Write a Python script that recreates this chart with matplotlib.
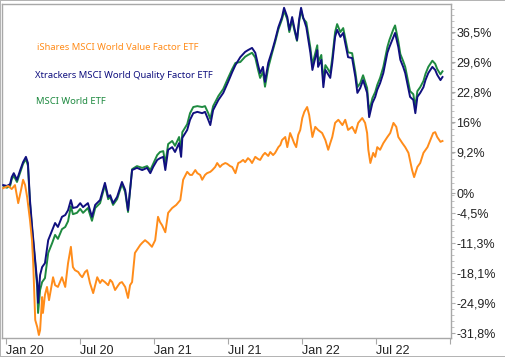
import matplotlib
matplotlib.use("Agg")
import matplotlib.pyplot as plt
import matplotlib.dates as mdates
import pandas as pd
import numpy as np

# ---- data (percent performance) ----
value_dates = ["2019-12-25","2020-01-06","2020-01-15","2020-01-23","2020-01-31","2020-02-07","2020-02-12","2020-02-17",
    "2020-02-22","2020-02-29","2020-03-05","2020-03-08","2020-03-13","2020-03-18","2020-03-22","2020-03-25","2020-03-30",
    "2020-04-01","2020-04-06","2020-04-11","2020-04-16","2020-04-19","2020-04-26","2020-05-01","2020-05-08","2020-05-13",
    "2020-05-18","2020-05-26","2020-06-02","2020-06-09","2020-06-14","2020-06-19","2020-06-27","2020-07-02","2020-07-07",
    "2020-07-14","2020-07-19","2020-07-26","2020-08-03","2020-08-08","2020-08-13","2020-08-20","2020-08-25","2020-09-01",
    "2020-09-09","2020-09-14","2020-09-19","2020-09-26","2020-10-04","2020-10-08","2020-10-13","2020-10-21","2020-10-28",
    "2020-11-02","2020-11-07","2020-11-14","2020-11-22","2020-11-27","2020-12-02","2020-12-09","2020-12-17","2020-12-22",
    "2020-12-26","2021-01-03","2021-01-10","2021-01-15","2021-01-20","2021-01-28","2021-02-04","2021-02-14","2021-02-24",
    "2021-03-06","2021-03-13","2021-03-23","2021-03-30","2021-04-04","2021-04-12","2021-04-17","2021-04-24","2021-04-29",
    "2021-05-06","2021-05-11","2021-05-19","2021-05-24","2021-05-31","2021-06-05","2021-06-12","2021-06-17","2021-06-25",
    "2021-06-30","2021-07-07","2021-07-12","2021-07-20","2021-07-27","2021-08-01","2021-08-08","2021-08-13","2021-08-20",
    "2021-08-25","2021-08-30","2021-09-07","2021-09-14","2021-09-19","2021-09-26","2021-10-01","2021-10-09","2021-10-14",
    "2021-10-21","2021-10-26","2021-11-03","2021-11-08","2021-11-12","2021-11-20","2021-11-25","2021-12-02","2021-12-07",
    "2021-12-12","2021-12-17","2021-12-22","2021-12-27","2022-01-01","2022-01-06","2022-01-13","2022-01-18","2022-01-26",
    "2022-02-02","2022-02-09","2022-02-19","2022-02-27","2022-03-06","2022-03-11","2022-03-16","2022-03-23","2022-03-31",
    "2022-04-10","2022-04-17","2022-04-24","2022-05-04","2022-05-12","2022-05-19","2022-05-29","2022-06-05","2022-06-10",
    "2022-06-13","2022-06-18","2022-06-25","2022-06-30","2022-07-05","2022-07-12","2022-07-20","2022-07-30","2022-08-06",
    "2022-08-14","2022-08-21","2022-08-26","2022-09-05","2022-09-12","2022-09-20","2022-09-29","2022-10-04","2022-10-12",
    "2022-10-19","2022-10-27","2022-11-06","2022-11-13","2022-11-20","2022-11-25","2022-11-30","2022-12-08","2022-12-13"]
value_etf = [1.1,1.6,0.9,1.8,-2.3,0.7,3.0,1.8,
    -0.9,-6.1,-10.7,-15.9,-28.8,-30.4,-32.2,-31.1,-23.6,
    -27.2,-23.1,-21.3,-24.3,-22.7,-19.1,-20.9,-21.3,-20.2,
    -19.1,-21.3,-15.9,-12.2,-16.8,-17.5,-17.9,-18.6,-19.1,
    -17.9,-17.5,-20.4,-22.7,-20.9,-19.1,-20.4,-19.7,-20.2,
    -20.9,-19.7,-20.2,-22.0,-20.9,-20.4,-20.2,-21.3,-23.8,
    -20.9,-20.2,-13.6,-12.5,-11.8,-11.3,-10.7,-11.3,-11.8,
    -12.2,-10.7,-5.4,-6.6,-7.3,-8.9,-4.5,-3.4,-2.7,
    -1.6,3.0,4.8,4.1,4.1,5.2,4.5,4.1,3.0,
    4.1,4.5,4.8,5.2,5.9,6.8,5.9,6.4,6.8,
    6.6,6.1,5.9,4.5,6.8,7.0,7.5,7.0,7.9,
    7.5,6.8,8.2,7.7,7.5,8.6,9.1,8.4,9.3,
    8.6,9.1,10.4,10.9,12.0,12.7,10.4,13.6,12.5,
    11.3,10.4,13.2,14.3,17.0,18.4,19.5,17.7,12.7,
    15.0,14.3,13.6,12.0,9.8,11.3,12.7,15.9,16.6,
    15.4,16.6,14.3,15.0,13.6,15.9,17.0,15.9,13.6,
    9.8,6.8,9.1,8.2,10.4,9.8,11.3,12.7,13.6,
    15.9,15.0,12.7,11.3,10.4,9.1,5.2,3.6,5.9,
    6.8,9.1,10.4,12.0,13.6,13.8,12.7,11.6,11.8]

quality_dates = ["2019-12-25","2020-01-03","2020-01-11","2020-01-15","2020-01-20","2020-01-28","2020-02-05","2020-02-12",
    "2020-02-19","2020-02-24","2020-02-29","2020-03-05","2020-03-13","2020-03-18","2020-03-20","2020-03-25","2020-03-30",
    "2020-04-06","2020-04-14","2020-04-24","2020-05-01","2020-05-08","2020-05-18","2020-05-26","2020-06-02","2020-06-09",
    "2020-06-14","2020-06-24","2020-07-02","2020-07-09","2020-07-21","2020-07-31","2020-08-08","2020-08-20","2020-09-01",
    "2020-09-09","2020-09-14","2020-09-21","2020-10-01","2020-10-13","2020-10-21","2020-10-28","2020-11-07","2020-11-19",
    "2020-12-02","2020-12-14","2020-12-22","2020-12-29","2021-01-08","2021-01-15","2021-01-23","2021-01-28","2021-02-04",
    "2021-02-14","2021-02-21","2021-03-03","2021-03-08","2021-03-11","2021-03-23","2021-03-30","2021-04-07","2021-04-17",
    "2021-04-29","2021-05-06","2021-05-14","2021-05-19","2021-05-26","2021-06-08","2021-06-20","2021-07-02","2021-07-12",
    "2021-07-20","2021-08-01","2021-08-13","2021-08-20","2021-08-30","2021-09-07","2021-09-14","2021-09-19","2021-09-26",
    "2021-10-01","2021-10-09","2021-10-19","2021-10-26","2021-11-03","2021-11-12","2021-11-17","2021-11-25","2021-11-30",
    "2021-12-07","2021-12-12","2021-12-19","2021-12-24","2021-12-29","2022-01-03","2022-01-11","2022-01-16","2022-01-21",
    "2022-01-26","2022-01-30","2022-02-07","2022-02-09","2022-02-17","2022-02-22","2022-02-27","2022-03-04","2022-03-11",
    "2022-03-16","2022-03-23","2022-03-28","2022-04-05","2022-04-12","2022-04-17","2022-04-24","2022-05-04","2022-05-12",
    "2022-05-17","2022-05-24","2022-05-31","2022-06-10","2022-06-15","2022-06-23","2022-06-30","2022-07-05","2022-07-12",
    "2022-07-20","2022-07-30","2022-08-04","2022-08-14","2022-08-18","2022-08-26","2022-08-31","2022-09-07","2022-09-12",
    "2022-09-17","2022-09-24","2022-10-02","2022-10-07","2022-10-12","2022-10-19","2022-10-27","2022-11-01","2022-11-08",
    "2022-11-18","2022-11-25","2022-11-30","2022-12-08","2022-12-13"]
quality_etf = [1.8,1.6,2.0,3.6,4.5,3.0,5.2,7.0,
    8.2,6.8,-1.6,-7.3,-15.2,-20.4,-24.9,-18.6,-16.8,
    -15.9,-10.7,-8.4,-6.8,-7.7,-5.4,-5.0,-3.9,-1.6,
    -3.4,-3.2,-2.3,-3.2,-2.3,-5.4,-2.7,-1.6,2.3,
    -0.9,-0.5,-2.3,-0.9,2.5,0.7,-3.9,5.2,5.7,
    5.2,5.7,4.5,5.9,7.5,7.9,8.2,5.2,9.8,
    10.4,9.3,11.3,8.2,12.5,14.3,16.6,18.1,18.4,
    18.1,18.4,16.6,15.4,18.8,21.1,22.7,25.2,27.4,
    29.0,30.8,32.0,32.4,32.9,31.8,29.0,27.2,28.6,
    25.2,29.5,32.4,34.7,37.6,39.9,42.0,39.9,37.0,
    39.9,37.6,34.7,39.2,42.0,39.9,37.6,34.7,31.8,
    27.9,29.5,32.4,28.6,30.2,24.0,27.9,27.2,26.1,
    29.5,35.4,37.0,35.4,36.3,34.0,30.8,30.6,26.3,
    22.7,23.8,25.6,22.7,17.2,20.4,21.8,23.4,24.9,
    27.2,31.8,33.1,35.4,36.3,33.1,30.2,28.6,27.2,
    24.9,21.8,21.1,18.1,21.8,22.7,24.0,25.6,27.2,
    28.6,27.9,26.8,25.6,26.3]
world_etf = [1.5,1.2,1.6,3.1,3.9,2.5,4.7,6.6,
    7.7,6.2,-2.3,-8.0,-16.0,-21.5,-27.2,-22.0,-20.2,
    -19.3,-13.6,-11.3,-9.5,-10.4,-8.2,-7.7,-6.4,-3.0,
    -4.8,-4.5,-3.6,-4.5,-3.4,-6.3,-3.4,-2.3,1.8,
    -1.4,-0.9,-2.7,-1.4,2.0,0.2,-4.3,5.4,6.1,
    5.7,6.1,5.2,6.6,8.6,9.3,9.5,6.6,11.1,
    11.8,10.7,12.7,9.8,13.8,15.6,18.1,19.5,19.7,
    19.5,19.7,18.1,16.8,19.7,22.0,23.6,26.1,28.1,
    29.5,29.7,30.9,31.3,31.8,30.7,27.9,26.1,27.5,
    24.1,28.4,31.9,34.2,37.1,39.4,41.3,39.4,36.5,
    39.2,37.1,34.5,38.7,41.5,39.6,38.7,35.8,32.9,
    29.0,30.6,33.5,29.7,31.3,25.4,29.0,28.3,27.2,
    30.6,36.5,38.3,36.5,37.4,35.1,31.9,31.7,27.4,
    24.0,24.9,26.7,23.8,18.4,21.5,22.9,24.5,26.1,
    28.6,33.1,34.7,37.2,38.0,34.4,31.5,29.9,28.6,
    26.3,23.1,22.4,19.5,23.1,24.0,25.4,27.0,28.6,
    30.0,29.3,28.1,26.9,27.6]

series_names = ["iShares MSCI World Value Factor ETF",
                "Xtrackers MSCI World Quality Factor ETF",
                "MSCI World ETF"]
series_colors = ["#ff8c1a", "#10107f", "#1e8a40"]

ytick_values = [-31.8, -24.9, -18.1, -11.3, -4.5, 0, 9.2, 16, 22.8, 29.6, 36.5]
ytick_labels = ["-31,8%", "-24,9%", "-18,1%", "-11,3%", "-4,5%", "0%", "9,2%", "16%", "22,8%", "29,6%", "36,5%"]
xtick_dates = ["2020-01-01", "2020-07-01", "2021-01-01", "2021-07-01", "2022-01-01", "2022-07-01", "2023-01-01"]
xtick_labels = ["Jan 20", "Jul 20", "Jan 21", "Jul 21", "Jan 22", "Jul 22", ""]

# ---- figure ----
W, H = 506, 357
fig = plt.figure(figsize=(W / 100, H / 100), dpi=100)
fig.patch.set_facecolor("white")
fig.patch.set_edgecolor("#b4b4b4")
fig.patch.set_linewidth(1.2)

ax = fig.add_axes([2 / W, 1 - 338 / H, 449 / W, 334 / H])
ax.set_facecolor("white")

vd = pd.to_datetime(value_dates)
qd = pd.to_datetime(quality_dates)
lw = 1.4
ax.plot(qd, world_etf, color=series_colors[2], lw=lw, zorder=2)
ax.plot(qd, quality_etf, color=series_colors[1], lw=lw, zorder=3)
ax.plot(vd, value_etf, color=series_colors[0], lw=lw, zorder=4)

ax.set_xlim(pd.Timestamp("2019-12-22"), pd.Timestamp("2023-01-03"))
ax.set_ylim(-32.88, 42.86)

for s in ax.spines.values():
    s.set_color("#a8a8a8")
    s.set_linewidth(1.0)

ax.yaxis.tick_right()
ax.set_yticks(ytick_values)
ax.set_yticklabels(ytick_labels)
ax.set_yticks(np.arange(-31.8, 42.0, 1.36), minor=True)
ax.tick_params(axis="y", which="major", length=3, width=0.8, color="#a8a8a8",
               labelsize=9, pad=1, labelcolor="#222222")
ax.tick_params(axis="y", which="minor", length=2, width=0.6, color="#b8b8b8")
ax.tick_params(axis="y", which="both", left=False, right=True)

ax.set_xticks(pd.to_datetime(xtick_dates))
ax.set_xticklabels(xtick_labels)
ax.xaxis.set_minor_locator(matplotlib.ticker.NullLocator())
ax.tick_params(axis="x", which="major", length=4, width=0.8, color="#a8a8a8",
               labelsize=9, pad=1, labelcolor="#222222")
for lab in ax.get_xticklabels():
    lab.set_horizontalalignment("left")
for lab in ax.get_xticklabels() + ax.get_yticklabels():
    lab.set_fontfamily(["Liberation Sans", "DejaVu Sans"])

# legend-like labels
legend_pos = [(37, 47), (35, 75), (36, 102)]
for name, col, (px, py) in zip(series_names, series_colors, legend_pos):
    fig.text(px / W, 1 - py / H, name, color=col, fontsize=6.8,
             family=["Noto Sans", "DejaVu Sans"], ha="left", va="center")

fig.savefig("out.png", dpi=100, facecolor=fig.get_facecolor(), edgecolor=fig.get_edgecolor())
